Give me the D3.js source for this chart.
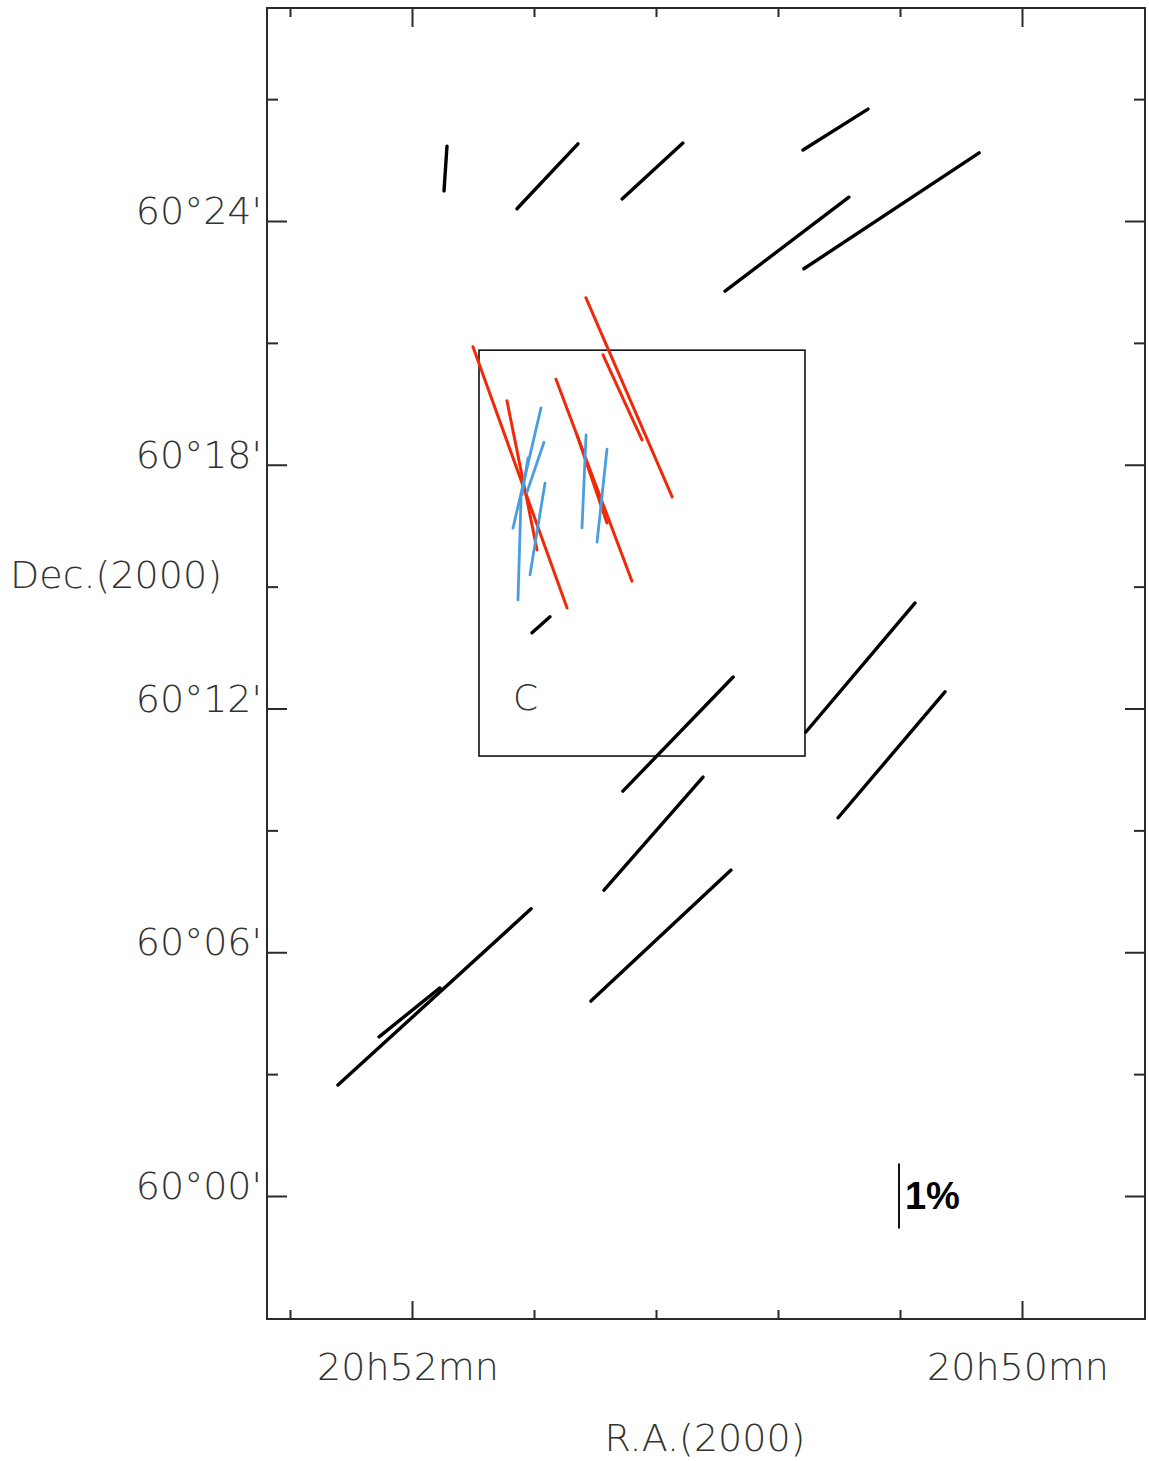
<!DOCTYPE html>
<html>
<head>
<meta charset="utf-8">
<script src="https://cdn.jsdelivr.net/npm/d3@7"></script>
<style>
  html, body { margin: 0; padding: 0; background: #fff; }
  svg { display: block; }
</style>
</head>
<body>
<svg id="chart" width="1149" height="1461"></svg>
<script>
// ---- Data (RA in seconds after 20h50m00s, Dec in arcmin after +60°00') ----
// Polarization vectors: [RA s, Dec ', P %, PA deg (E of N)]
const blackVectors = [
  [113.41, 25.29, 0.69, 176.2],
  [93.35, 25.10, 1.37, 136.8],
  [72.69, 25.23, 1.27, 132.6],
  [36.69, 26.25, 1.18, 122.2],
  [46.23, 23.43, 2.39, 127.2],
  [25.67, 24.25, 3.23, 123.5],
  [94.62, 14.06, 0.37, 131.6],
  [67.67, 11.37, 2.44, 136.0],
  [31.77, 13.01, 2.60, 139.8],
  [25.67, 10.86, 2.54, 139.7],
  [72.49, 8.92, 2.31, 138.8],
  [71.02, 6.41, 2.95, 133.1],
  [115.57, 4.90, 4.02, 132.4],
  [120.49, 4.52, 1.20, 128.8]
];
const redVectors = [
  [98.75, 17.69, 4.27, 19.8],
  [98.36, 17.74, 2.34, 11.4],
  [84.20, 17.62, 3.32, 20.6],
  [77.31, 19.66, 3.34, 23.4],
  [78.59, 19.66, 1.44, 24.6],
  [84.59, 17.65, 1.43, 18.8]
];
const blueVectors = [
  [97.38, 17.92, 1.90, 166.9],
  [95.71, 17.94, 0.81, 161.2],
  [95.31, 16.42, 1.43, 170.7],
  [98.85, 15.93, 1.57, 178.3],
  [97.77, 17.71, 0.58, 170.8],
  [86.16, 17.59, 1.43, 177.5],
  [82.62, 17.24, 1.44, 173.9]
];
// Region box C: [RA east, RA west, Dec north, Dec south]
const boxC = [106.82, 42.69, 20.82, 10.83];
const boxLabel = { text: "C", ra: 100.13, dec: 11.96 };
// Scale bar: 1% at [RA, Dec]
const scaleBar = { p: 1, ra: 24.2, dec: 0.0, text: "1%" };

const raMinorTicks = [144, 96, 72, 48, 24];
const raMajorTicks = [120, 0];
const raTickLabels = ["20h52mn", "20h50mn"];
const decMinorTicks = [27, 21, 15, 9, 3];
const decMajorTicks = [24, 18, 12, 6, 0];
const decTickLabels = ["60°24'", "60°18'", "60°12'", "60°06'", "60°00'"];
const xTitle = "R.A.(2000)";
const yTitle = "Dec.(2000)";

// ---- Layout ----
const svg = d3.select("#chart");
const L = 267, R = 1145, T = 8, B = 1319;

const x = d3.scaleLinear().domain([120, 0]).range([412, 1022]);
const y = d3.scaleLinear().domain([0, 24]).range([1196, 221]);
// polarization length: percent -> arcmin on sky
const pScale = d3.scaleLinear().domain([0, 1]).range([0, 1.6]);
const raSecPerArcmin = 8; // at Dec +60

function endpoints(v) {
  const [ra, dec, p, pa] = v;
  const h = pScale(p) / 2;
  const r = pa * Math.PI / 180;
  const dRa = h * Math.sin(r) * raSecPerArcmin;
  const dDec = h * Math.cos(r);
  return [[x(ra + dRa), y(dec + dDec)], [x(ra - dRa), y(dec - dDec)]];
}

const fontFam = "'DejaVu Sans', 'Liberation Sans', sans-serif";
const txtCol = "#333";
const fs = 38;

// frame
svg.append("rect")
  .attr("x", L).attr("y", T).attr("width", R - L).attr("height", B - T)
  .attr("fill", "none").attr("stroke", "#2a2a2a").attr("stroke-width", 2);

// ticks via d3 axes (inward)
function addAxis(axisFn, scale, vals, size, transform) {
  const g = svg.append("g").attr("transform", transform)
    .call(axisFn(scale).tickValues(vals).tickSize(size).tickFormat(""));
  g.select(".domain").remove();
  g.selectAll(".tick line").attr("stroke", "#2a2a2a").attr("stroke-width", 2);
}
addAxis(d3.axisBottom, x, raMinorTicks, -9, `translate(0,${B})`);
addAxis(d3.axisBottom, x, raMajorTicks, -18, `translate(0,${B})`);
addAxis(d3.axisTop, x, raMinorTicks, -9, `translate(0,${T})`);
addAxis(d3.axisTop, x, raMajorTicks, -19, `translate(0,${T})`);
addAxis(d3.axisLeft, y, decMinorTicks, -11, `translate(${L},0)`);
addAxis(d3.axisLeft, y, decMajorTicks, -20, `translate(${L},0)`);
addAxis(d3.axisRight, y, decMinorTicks, -11, `translate(${R},0)`);
addAxis(d3.axisRight, y, decMajorTicks, -20, `translate(${R},0)`);

function label(sel) {
  return sel.attr("font-family", fontFam).attr("font-size", fs)
    .attr("font-weight", 200).attr("fill", txtCol);
}

// tick labels
label(svg.selectAll("text.xl").data(raMajorTicks).enter().append("text")
  .attr("x", d => x(d) - 4).attr("y", 1380)
  .attr("text-anchor", "middle"))
  .text((d, i) => raTickLabels[i]);
label(svg.selectAll("text.yl").data(decMajorTicks).enter().append("text")
  .attr("x", 262).attr("y", d => y(d) + 3)
  .attr("text-anchor", "end"))
  .text((d, i) => decTickLabels[i]);

// axis titles
label(svg.append("text").attr("x", 705).attr("y", 1451).attr("text-anchor", "middle")).text(xTitle);
label(svg.append("text").attr("x", 10).attr("y", 588).attr("text-anchor", "start")).text(yTitle);

// region box C
svg.append("rect")
  .attr("x", x(boxC[0])).attr("y", y(boxC[2]))
  .attr("width", x(boxC[1]) - x(boxC[0])).attr("height", y(boxC[3]) - y(boxC[2]))
  .attr("fill", "none").attr("stroke", "#111").attr("stroke-width", 1.6);
label(svg.append("text").attr("x", x(boxLabel.ra)).attr("y", y(boxLabel.dec)))
  .attr("font-size", 36).text(boxLabel.text);

// vectors
function drawVectors(data, color, width) {
  svg.append("g").selectAll("line").data(data).enter().append("line")
    .each(function (d) {
      const [[x1, y1], [x2, y2]] = endpoints(d);
      d3.select(this).attr("x1", x1).attr("y1", y1).attr("x2", x2).attr("y2", y2);
    })
    .attr("stroke", color).attr("stroke-width", width).attr("stroke-linecap", "round");
}
drawVectors(blackVectors, "#000", 3.4);
drawVectors(redVectors, "#ee2a0a", 3);
drawVectors(blueVectors, "#4a9de0", 2.8);

// scale bar
const sb = endpoints([scaleBar.ra, scaleBar.dec, scaleBar.p, 0]);
svg.append("line")
  .attr("x1", sb[0][0]).attr("y1", sb[0][1]).attr("x2", sb[1][0]).attr("y2", sb[1][1])
  .attr("stroke", "#111").attr("stroke-width", 2);
svg.append("text").attr("x", sb[0][0] + 6).attr("y", y(scaleBar.dec) + 13)
  .attr("font-family", "'Liberation Sans', Arial, sans-serif").attr("font-weight", "bold")
  .attr("font-size", 38).attr("fill", "#000").text(scaleBar.text);
</script>
</body>
</html>
